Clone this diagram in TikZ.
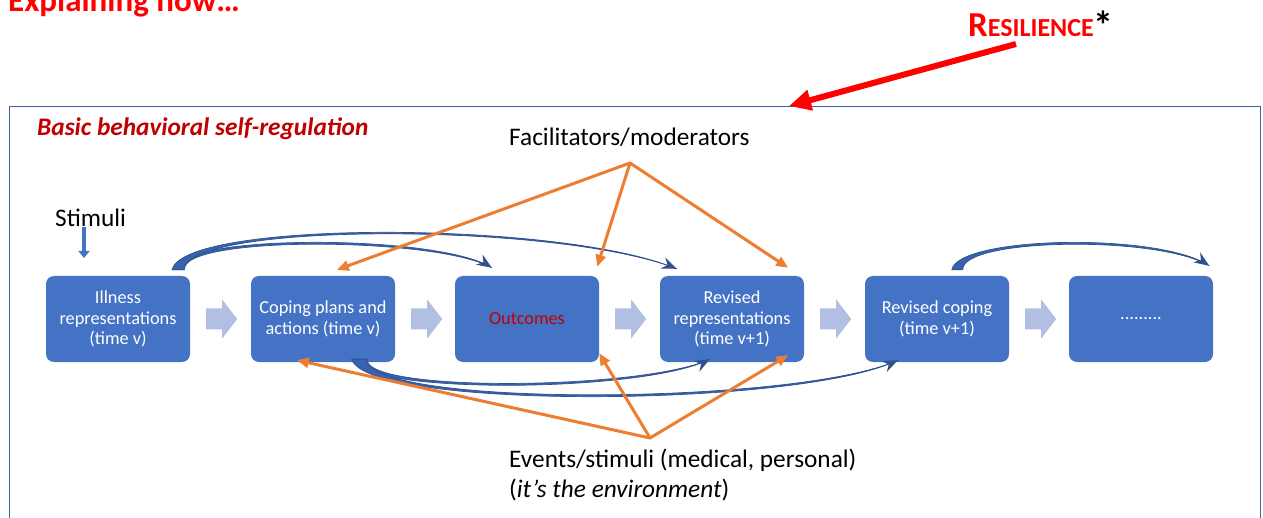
\documentclass[tikz,border=0pt]{standalone}
\usepackage{fontspec}
\setmainfont{Carlito}
\usetikzlibrary{arrows.meta,calc}
\definecolor{boxblue}{HTML}{4472C4}
\definecolor{arrowlight}{HTML}{B1BFE3}
\definecolor{curveblue}{HTML}{3862AE}
\definecolor{curveline}{HTML}{2F528F}
\definecolor{orangeA}{HTML}{ED7D31}
\definecolor{darkred}{HTML}{C00000}
\definecolor{brightred}{HTML}{FF0000}
\definecolor{framecol}{HTML}{41619E}
\begin{document}
\begin{tikzpicture}[x=1pt,y=-1pt,
  stagebox/.style={rectangle, rounded corners=8pt, fill=boxblue, minimum width=144pt, minimum height=86pt, inner sep=0pt, text=white, font=\fontsize{18.3}{20.5}\selectfont, align=center},
  plaintext/.style={anchor=base west, inner sep=0pt, font=\fontsize{25.3}{30}\selectfont},
  orangearrow/.style={draw=orangeA, line width=3pt, line cap=round, -{Triangle[length=12pt,width=10pt]}},
  curveband/.style={fill=curveblue, draw=curveline, line width=0.7pt},
  curvetip/.style={draw=curveline, fill=curveblue, line width=1pt, -{Stealth[length=15pt,width=12pt,inset=5pt]}},
  flowarrow/.style={fill=arrowlight}
]
\useasboundingbox (0,0) rectangle (1263,518);

% frame
\coordinate (ftl) at (9,107);
\coordinate (ftr) at (1260,107);
\draw[framecol, line width=1pt] ($(ftl)+(0,440)$) -- (ftl) -- (ftr) -- ($(ftr)+(0,440)$);

% titles
\node[anchor=base west, inner sep=0pt, text=brightred, font=\fontsize{33}{36}\selectfont\bfseries] (title) at (8,12) {Explaining how…};
\node[anchor=base west, inner sep=0pt, text=brightred, font=\bfseries] (res) at (968,37)
  {\fontsize{35}{40}\selectfont R\fontsize{26}{30}\selectfont ESILIENCE\textcolor{black}{\fontsize{40}{44}\selectfont\raisebox{-3pt}{*}}};
\coordinate (resstart) at ($(res.base west)+(48,7)$);
\coordinate (restip) at ($(ftl)+(780,-1)$);
\draw[brightred, line width=6pt, -{Triangle[length=22pt,width=20pt]}] (resstart) -- (restip);

\node[anchor=base west, inner sep=0pt, text=darkred, font=\fontsize{25.3}{30}\selectfont\bfseries\itshape] (bbsr) at (37,136) {Basic behavioral self-regulation};

\node[plaintext] (fac) at (509,146) {Facilitators/moderators};
\node[plaintext] (stim) at (55,227) {Stimuli};
\node[plaintext] (ev1) at (509,467) {Events/stimuli (medical, personal)};
\node[plaintext] (ev2) at (509,497) {(\textit{it’s the environment})};

% boxes
\node[stagebox] (b1) at (118,319) {Illness\\representations\\(time v)};
\node[stagebox] (b2) at (323,319) {Coping plans and\\actions (time v)};
\node[stagebox, text=darkred] (b3) at (527,319) {Outcomes};
\node[stagebox] (b4) at (732,319) {Revised\\representations\\(time v+1)};
\node[stagebox] (b5) at (937,319) {Revised coping\\(time v+1)};
\node[stagebox] (b6) at (1141,319) {.........};

% block arrows
\foreach \a in {b1,b2,b3,b4,b5}{
  \fill[flowarrow] ($(\a.east)+(16,-10.5)$) -- ++(16,0) -- ++(0,-9) -- ++(15,19.5) -- ++(-15,19.5) -- ++(0,-9) -- ++(-16,0) -- cycle;
}

% stimuli arrow
\coordinate (stimend) at (84,258);
\draw[draw=boxblue, line width=3.2pt, -{Triangle[length=7pt,width=11pt]}] (stimend |- stim.south) -- (stimend);

% curved arrows top
\coordinate (Sa1) at ($(b1.north east)+(-18,-6)$);
\coordinate (Sb1) at ($(b1.north east)+(-6,-6)$);
\coordinate (TA) at ($(b3.north west)+(37,-8)$);
\coordinate (TB) at ($(b4.north west)+(17,-7)$);
\filldraw[curveband] (Sa1) .. controls (178,233) and (440,234) .. (TA) .. controls (438,237) and (181,235) .. (Sb1) -- cycle;
\draw[curvetip] ($(TA)+(-6.7,-4.4)$) -- (TA);
\filldraw[curveband] (Sa1) .. controls (182,220) and (560,220) .. (TB) .. controls (558,222) and (185,222) .. (Sb1) -- cycle;
\draw[curvetip] ($(TB)+(-7.4,-3.1)$) -- (TB);

\coordinate (Sa5) at ($(b5.north west)+(87,-6)$);
\coordinate (Sb5) at ($(b5.north west)+(98,-6)$);
\coordinate (TC) at ($(b6.north east)+(-4,-10)$);
\filldraw[curveband] (Sa5) .. controls (958,236) and (1160,232) .. (TC) .. controls (1158,235) and (961,238) .. (Sb5) -- cycle;
\draw[curvetip] ($(TC)+(-6.6,-4.5)$) -- (TC);

% curved arrows bottom
\coordinate (Sa2) at ($(b2.south west)+(101,-3)$);
\coordinate (Sb2) at ($(b2.south west)+(116,-3)$);
\coordinate (TD) at ($(b4.south west)+(50,-3)$);
\coordinate (TE) at ($(b5.south west)+(33,-2)$);
\filldraw[curveband] (Sa2) .. controls (362,395) and (645,393) .. (TD) .. controls (643,390) and (365,393) .. (Sb2) -- cycle;
\draw[curvetip] ($(TD)+(-7,3.8)$) -- (TD);
\filldraw[curveband] (Sa2) .. controls (366,410) and (800,408) .. (TE) .. controls (798,405) and (369,408) .. (Sb2) -- cycle;
\draw[curvetip] ($(TE)+(-7.2,3.4)$) -- (TE);

% orange arrows
\coordinate (facp) at ($(fac.base west)+(121,17)$);
\draw[orangearrow] (facp) -- ($(b2.north west)+(86,-6)$);
\draw[orangearrow] (facp) -- ($(b3.north east)+(-2,-9)$);
\draw[orangearrow] (facp) -- ($(b4.north east)+(-16,-8)$);
\coordinate (evp) at ($(ev1.base west)+(141,-29)$);
\draw[orangearrow] (evp) -- ($(b2.south west)+(46,-2)$);
\draw[orangearrow] (evp) -- ($(b3.south east)+(0,-9)$);
\draw[orangearrow] (evp) -- ($(b4.south east)+(-16,-7)$);
\end{tikzpicture}
\end{document}
